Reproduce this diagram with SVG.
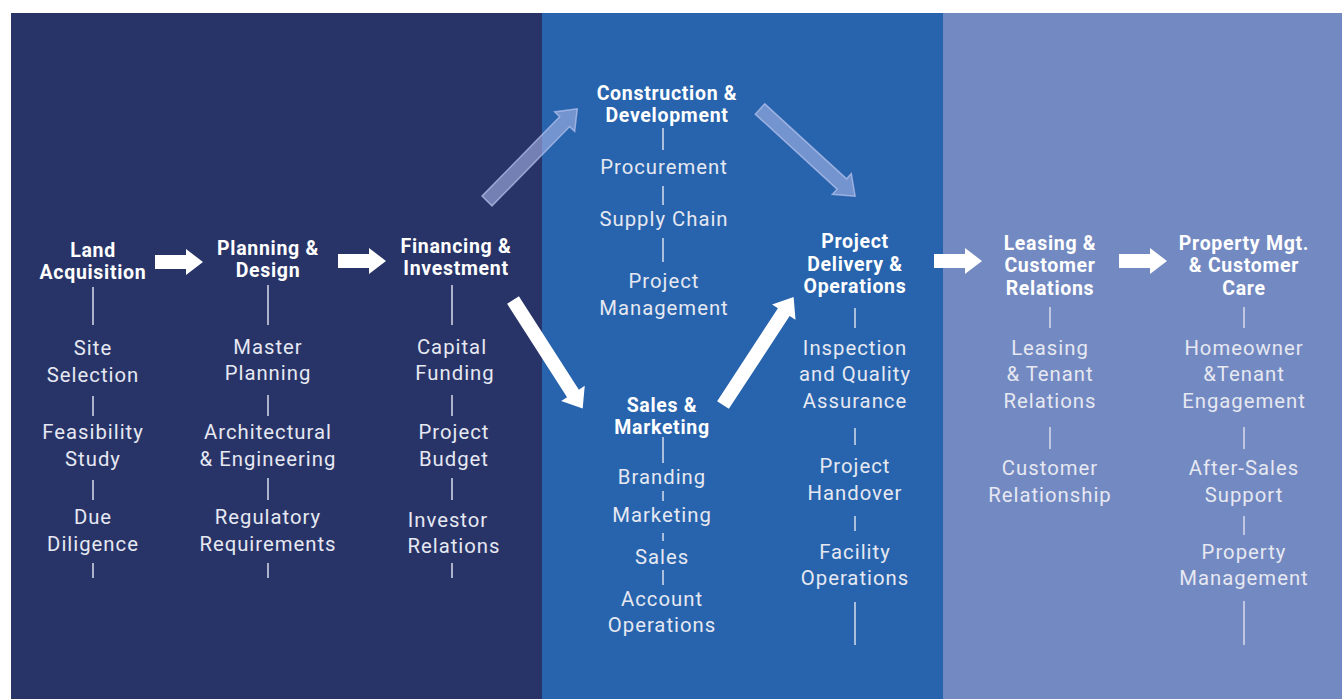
<svg xmlns="http://www.w3.org/2000/svg" width="1342" height="699" viewBox="0 0 1342 699">
<style>
.h{font-family:Roboto,"Liberation Sans",sans-serif;font-weight:bold;font-size:19.5px;fill:#ffffff;text-anchor:middle;letter-spacing:0.7px}
.s{font-family:Roboto,"Liberation Sans",sans-serif;font-size:20.3px;fill:#e6e8f2;text-anchor:middle;letter-spacing:1px}
.v{stroke:#d8dcec;stroke-width:1.5}
.w{fill:#ffffff}
.f{fill:#a7b4e6;fill-opacity:0.6;stroke:#b9c4ee;stroke-opacity:0.7;stroke-width:1.5}
</style>
<defs>
<path id="da" d="M0,-7 H111 V-14 L129,0 L111,14 V7 H0 Z"/>
<path id="ha" d="M0,-7 H31 V-13 L48,0 L31,13 V7 H0 Z"/>
</defs>
<rect x="0" y="0" width="1342" height="699" fill="#ffffff"/>
<rect x="11" y="13" width="531" height="686" fill="#283468"/>
<rect x="542" y="13" width="401" height="686" fill="#2764ad"/>
<rect x="943" y="13" width="399" height="686" fill="#7389c1"/>

<g id="connectors">
<use href="#ha" class="w" transform="translate(155,262)"/>
<use href="#ha" class="w" transform="translate(338,261)"/>
<use href="#ha" class="w" transform="translate(934,261)"/>
<use href="#ha" class="w" transform="translate(1119,261)"/>
<use href="#da" class="f" transform="translate(487,201) rotate(-45.6)"/>
<use href="#da" class="f" transform="translate(760,109) rotate(42.5)"/>
<use href="#da" class="w" transform="translate(513,300) rotate(57.3)"/>
<use href="#da" class="w" transform="translate(723,405) rotate(-56.8)"/>
</g>

<g id="land">
<text class="h" x="93" y="257">Land</text>
<text class="h" x="93" y="279">Acquisition</text>
<line class="v" x1="93" y1="287" x2="93" y2="325"/>
<text class="s" x="93" y="355">Site</text>
<text class="s" x="93" y="382">Selection</text>
<line class="v" x1="93" y1="396" x2="93" y2="416"/>
<text class="s" x="93" y="439">Feasibility</text>
<text class="s" x="93" y="466">Study</text>
<line class="v" x1="93" y1="480" x2="93" y2="500"/>
<text class="s" x="93" y="524">Due</text>
<text class="s" x="93" y="551">Diligence</text>
<line class="v" x1="93" y1="563" x2="93" y2="578"/>
</g>

<g id="planning">
<text class="h" x="268" y="255">Planning &amp;</text>
<text class="h" x="268" y="277">Design</text>
<line class="v" x1="268" y1="285" x2="268" y2="325"/>
<text class="s" x="268" y="354">Master</text>
<text class="s" x="268" y="380">Planning</text>
<line class="v" x1="268" y1="395" x2="268" y2="416"/>
<text class="s" x="268" y="439">Architectural</text>
<text class="s" x="268" y="466">&amp; Engineering</text>
<line class="v" x1="268" y1="478" x2="268" y2="500"/>
<text class="s" x="268" y="524">Regulatory</text>
<text class="s" x="268" y="551">Requirements</text>
<line class="v" x1="268" y1="563" x2="268" y2="578"/>
</g>

<g id="financing">
<text class="h" x="456" y="253">Financing &amp;</text>
<text class="h" x="456" y="275">Investment</text>
<line class="v" x1="452" y1="285" x2="452" y2="325"/>
<text class="s" x="452" y="354">Capital</text>
<text class="s" x="455" y="380">Funding</text>
<line class="v" x1="452" y1="395" x2="452" y2="416"/>
<text class="s" x="454" y="439">Project</text>
<text class="s" x="454" y="466">Budget</text>
<line class="v" x1="452" y1="478" x2="452" y2="500"/>
<text class="s" x="448" y="527">Investor</text>
<text class="s" x="454" y="553">Relations</text>
<line class="v" x1="452" y1="563" x2="452" y2="578"/>
</g>

<g id="construction">
<text class="h" x="667" y="100">Construction &amp;</text>
<text class="h" x="667" y="122">Development</text>
<line class="v" x1="663" y1="128" x2="663" y2="150"/>
<text class="s" x="664" y="174">Procurement</text>
<line class="v" x1="663" y1="186" x2="663" y2="205"/>
<text class="s" x="664" y="226">Supply Chain</text>
<line class="v" x1="663" y1="238" x2="663" y2="262"/>
<text class="s" x="664" y="288">Project</text>
<text class="s" x="664" y="315">Management</text>
</g>

<g id="sales">
<text class="h" x="662" y="412">Sales &amp;</text>
<text class="h" x="662" y="434">Marketing</text>
<line class="v" x1="663" y1="437" x2="663" y2="463"/>
<text class="s" x="662" y="484">Branding</text>
<line class="v" x1="663" y1="491" x2="663" y2="501"/>
<text class="s" x="662" y="522">Marketing</text>
<line class="v" x1="663" y1="533" x2="663" y2="541"/>
<text class="s" x="662" y="564">Sales</text>
<line class="v" x1="663" y1="570" x2="663" y2="585"/>
<text class="s" x="662" y="606">Account</text>
<text class="s" x="662" y="632">Operations</text>
</g>

<g id="delivery">
<text class="h" x="855" y="248">Project</text>
<text class="h" x="855" y="271">Delivery &amp;</text>
<text class="h" x="855" y="293">Operations</text>
<line class="v" x1="855" y1="308" x2="855" y2="328"/>
<text class="s" x="855" y="355">Inspection</text>
<text class="s" x="855" y="381">and Quality</text>
<text class="s" x="855" y="408">Assurance</text>
<line class="v" x1="855" y1="428" x2="855" y2="445"/>
<text class="s" x="855" y="473">Project</text>
<text class="s" x="855" y="500">Handover</text>
<line class="v" x1="855" y1="516" x2="855" y2="531"/>
<text class="s" x="855" y="559">Facility</text>
<text class="s" x="855" y="585">Operations</text>
<line class="v" x1="855" y1="602" x2="855" y2="645"/>
</g>

<g id="leasing">
<text class="h" x="1050" y="250">Leasing &amp;</text>
<text class="h" x="1050" y="272">Customer</text>
<text class="h" x="1050" y="295">Relations</text>
<line class="v" x1="1050" y1="307" x2="1050" y2="328"/>
<text class="s" x="1050" y="355">Leasing</text>
<text class="s" x="1050" y="381">&amp; Tenant</text>
<text class="s" x="1050" y="408">Relations</text>
<line class="v" x1="1050" y1="427" x2="1050" y2="449"/>
<text class="s" x="1050" y="475">Customer</text>
<text class="s" x="1050" y="502">Relationship</text>
</g>

<g id="property">
<text class="h" x="1244" y="250">Property Mgt.</text>
<text class="h" x="1244" y="272">&amp; Customer</text>
<text class="h" x="1244" y="295">Care</text>
<line class="v" x1="1244" y1="307" x2="1244" y2="328"/>
<text class="s" x="1244" y="355">Homeowner</text>
<text class="s" x="1244" y="381">&amp;Tenant</text>
<text class="s" x="1244" y="408">Engagement</text>
<line class="v" x1="1244" y1="427" x2="1244" y2="449"/>
<text class="s" x="1244" y="475">After-Sales</text>
<text class="s" x="1244" y="502">Support</text>
<line class="v" x1="1244" y1="516" x2="1244" y2="535"/>
<text class="s" x="1244" y="559">Property</text>
<text class="s" x="1244" y="585">Management</text>
<line class="v" x1="1244" y1="601" x2="1244" y2="645"/>
</g>
</svg>
